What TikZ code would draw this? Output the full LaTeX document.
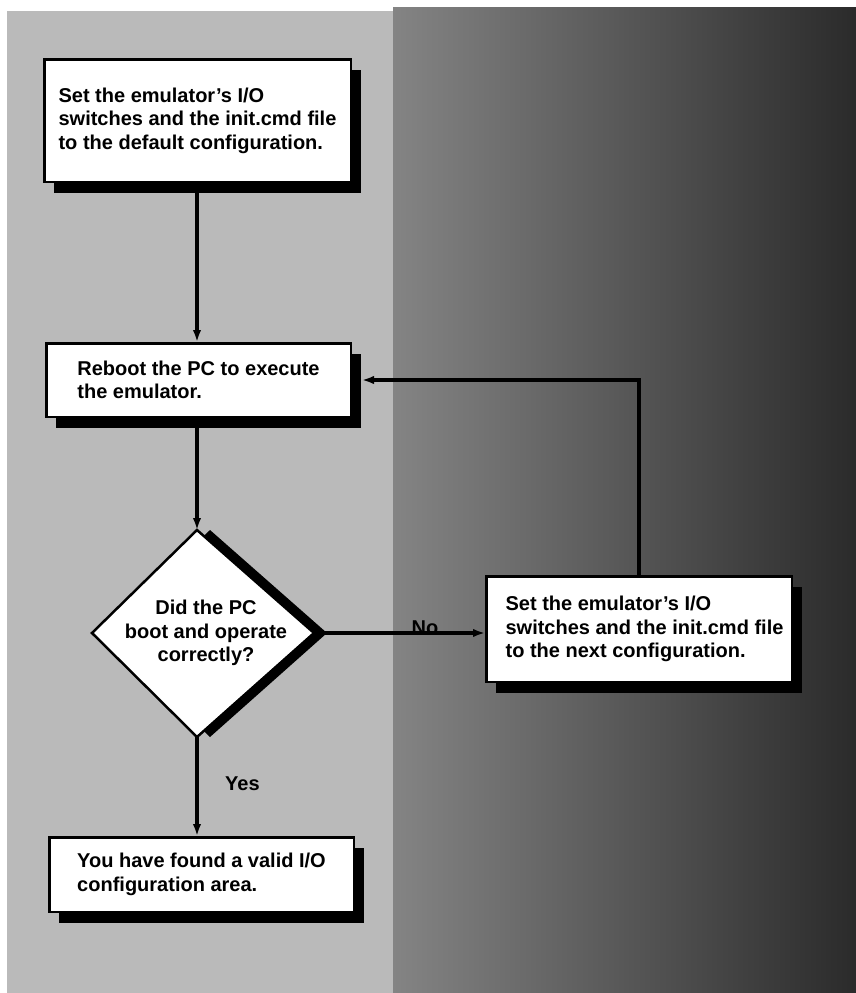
\documentclass[tikz,border=0pt]{standalone}
\usepackage{fontspec}
\setmainfont{Liberation Sans}
\usetikzlibrary{arrows.meta,shadows}
\definecolor{lightbg}{HTML}{BABABA}
\definecolor{darkL}{HTML}{848484}
\definecolor{darkM}{HTML}{5E5E5E}
\definecolor{darkR}{HTML}{262626}
\begin{document}
\begin{tikzpicture}[x=1pt,y=-1pt,
  txt/.style={font=\fontsize{20}{23.5}\selectfont\bfseries},
  box/.style={txt, draw=black, line width=2.5pt, fill=white, align=left, inner sep=0pt,
     drop shadow={shadow xshift=10pt, shadow yshift=-11pt, fill=black, opacity=1}},
  conn/.style={line width=3.5pt, -{Latex[length=12pt,width=8.5pt]}},
  lbl/.style={txt, inner sep=0pt}]
\useasboundingbox (0,0) rectangle (855,993);
\fill[white] (-20,-20) rectangle (880,1020);
\fill[lightbg] (7,11) rectangle (394,1020);
\shade[left color=darkL, middle color=darkM, right color=darkR] (393,7) rectangle (880,1020);

\node[box, minimum width=306.5pt, minimum height=122.5pt] (b1) at (197.5,120.5)
  {Set the emulator's I/O\\switches and the init.cmd file\\to the default configuration.};
\node[box, minimum width=304.5pt, minimum height=73.5pt] (b2) at (198.5,380)
  {Reboot the PC to execute\\the emulator.};
\node[box, minimum width=305.5pt, minimum height=105.5pt] (b3) at (639,629)
  {\hspace*{11pt}Set the emulator's I/O\\\hspace*{11pt}switches and the init.cmd file\\\hspace*{11pt}to the next configuration.};
\node[box, minimum width=304.5pt, minimum height=74.5pt] (b4) at (201.5,874.5)
  {You have found a valid I/O\\configuration area.};

% decision diamond
\coordinate (dt) at (197,530);
\coordinate (dr) at (314,633);
\coordinate (db) at (197,737);
\coordinate (dl) at (92,633);
\fill[black, shift={(13,0)}] (197,530) -- (314,633) -- (197,737) -- (92,633) -- cycle;
\filldraw[fill=white, draw=black, line width=2.5pt] (dt) -- (dr) -- (db) -- (dl) -- cycle;
\node[txt, align=center, inner sep=0pt] (dq) at (206,633)
  {Did the PC\\boot and operate\\correctly?};

\node[lbl, anchor=base] (no) at (425,634) {No};
\node[lbl, anchor=base west] (yes) at (225,790) {Yes};

\draw[conn] (b1.south -| dt) -- (b2.north -| dt);
\draw[conn] (b2.south -| dt) -- (dt);
\draw[conn] (dr) -- (b3.west |- dr);
\draw[conn] (b3.north) |- ([xshift=10pt]b2.east);
\draw[conn] (db) -- (b4.north -| db);
\end{tikzpicture}
\end{document}
